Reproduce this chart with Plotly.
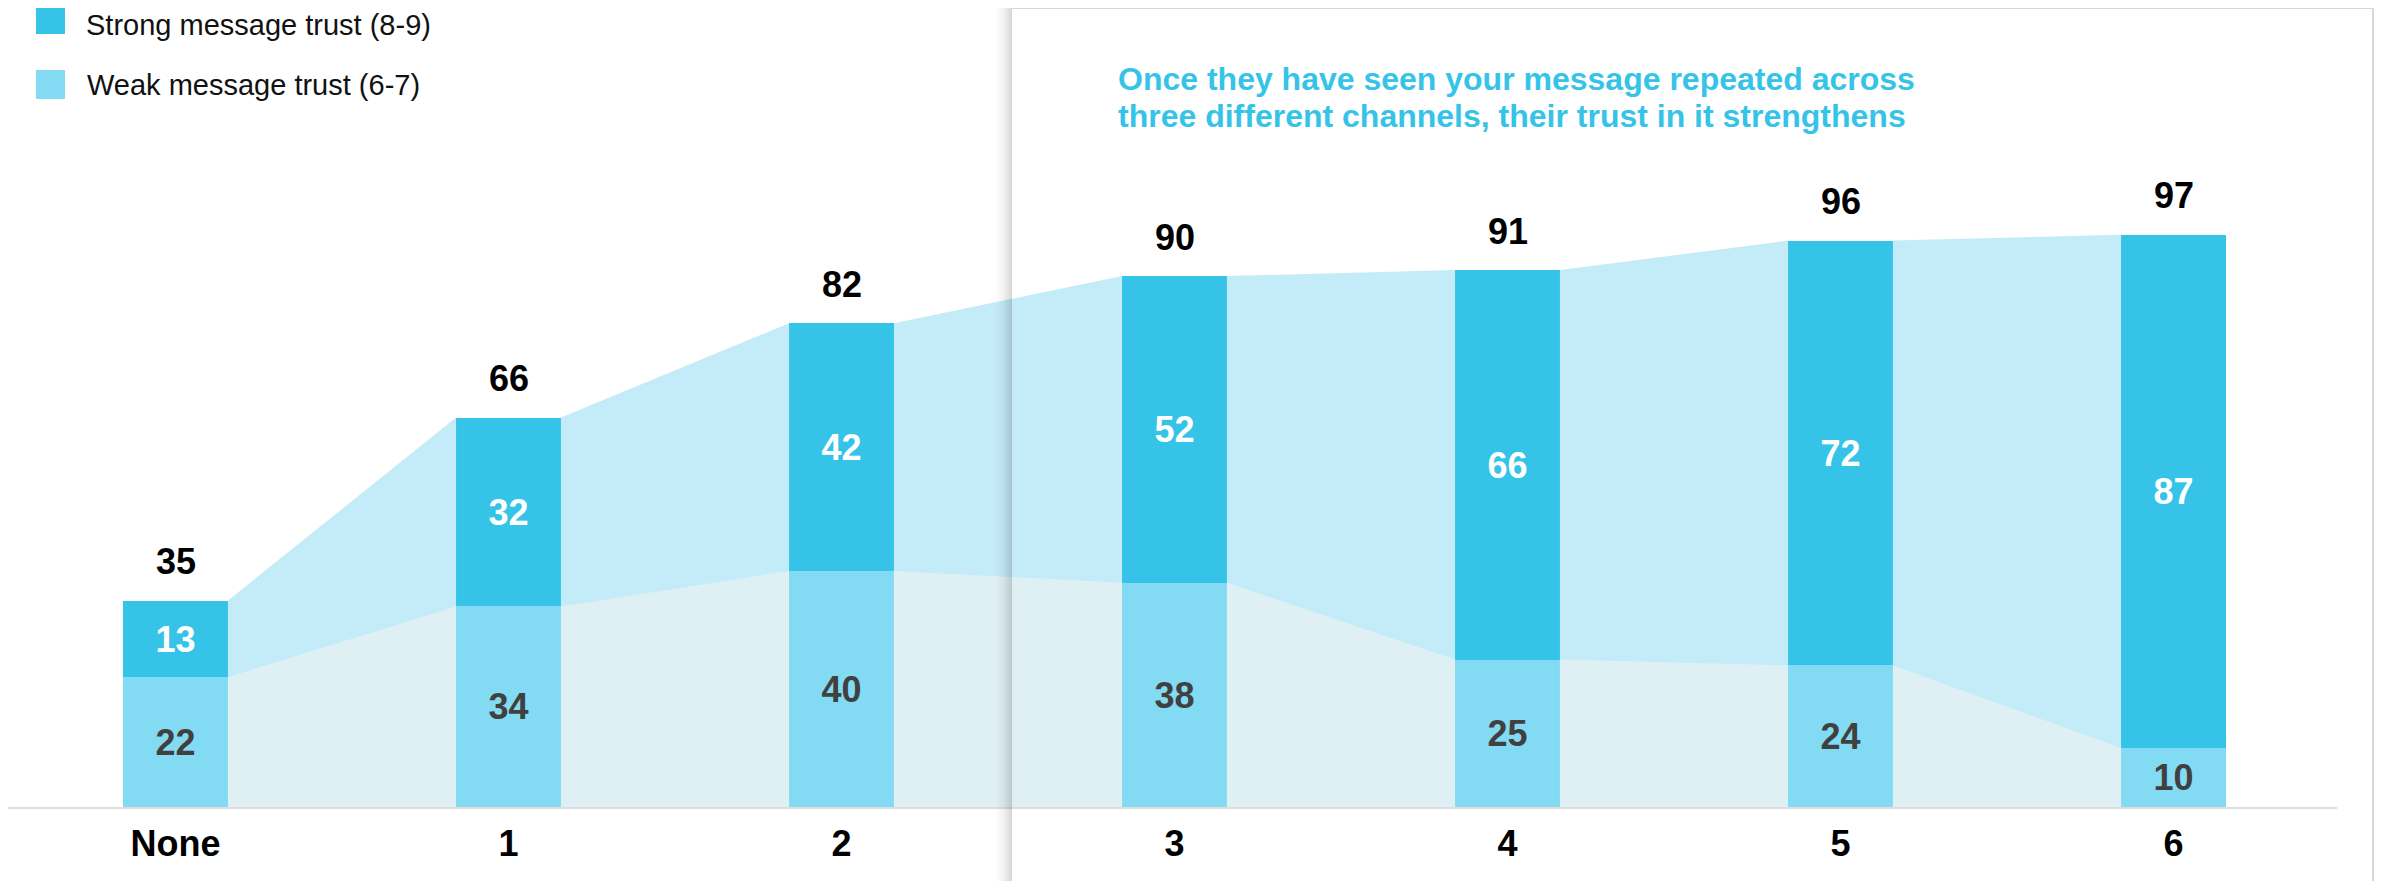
import plotly.graph_objects as go

categories = ["None", "1", "2", "3", "4", "5", "6"]
strong = [13, 32, 42, 52, 66, 72, 87]
weak = [22, 34, 40, 38, 25, 24, 10]
totals = [35, 66, 82, 90, 91, 96, 97]
legend_labels = ["Strong message trust (8-9)", "Weak message trust (6-7)"]
callout_lines = ["Once they have seen your message repeated across",
                 "three different channels, their trust in it strengthens"]

C_STRONG = "#35c4e8"
C_WEAK = "#82dbf2"
C_AREA_TOP = "#c4ecf8"
C_AREA_LOW = "#dff0f5"

OFF = 8  # page body margin
W, H = 2382 - OFF, 881 - OFF


def px(p):
    return (p - OFF) / W


def py(p):
    return 1 - (p - OFF) / H


BW = 0.315  # bar width in category units
xs = list(range(len(categories)))


def gap_polys(vals):
    gx, gy = [], []
    for i in range(len(vals) - 1):
        a = xs[i] + BW / 2
        b = xs[i + 1] - BW / 2
        gx += [a, a, b, b, a, None]
        gy += [0, vals[i], vals[i + 1], 0, 0, None]
    return gx, gy


fig = go.Figure()
tx, ty = gap_polys(totals)
fig.add_trace(go.Scatter(x=tx, y=ty, fill="toself", fillcolor=C_AREA_TOP, mode="lines",
                         line=dict(width=0), hoverinfo="skip", showlegend=False))
wx, wy = gap_polys(weak)
fig.add_trace(go.Scatter(x=wx, y=wy, fill="toself", fillcolor=C_AREA_LOW, mode="lines",
                         line=dict(width=0), hoverinfo="skip", showlegend=False))

fig.add_trace(go.Bar(x=xs, y=weak, width=BW, marker=dict(color=C_WEAK, line=dict(width=0)),
                     text=[str(v) for v in weak], textposition="inside", insidetextanchor="middle",
                     textangle=0, textfont=dict(family="Arial", size=36, color="#404040", weight="bold"),
                     name=legend_labels[1], showlegend=False))
fig.add_trace(go.Bar(x=xs, y=strong, width=BW, marker=dict(color=C_STRONG, line=dict(width=0)),
                     text=[str(v) for v in strong], textposition="inside", insidetextanchor="middle",
                     textangle=0, textfont=dict(family="Arial", size=36, color="white", weight="bold"),
                     name=legend_labels[0], showlegend=False))

for x, t in zip(xs, totals):
    fig.add_annotation(x=x, y=t, text=f"<b>{t}</b>", showarrow=False, yanchor="middle", yshift=39,
                       font=dict(family="Arial", size=36, color="black"))

# legend (manual)
leg_colors = [C_STRONG, C_WEAK]
leg_centers = [19.5, 84.5]
for i, (lab, col, cy) in enumerate(zip(legend_labels, leg_colors, leg_centers)):
    fig.add_shape(type="rect", xref="paper", yref="paper", x0=px(36), x1=px(65),
                  y0=py(cy + 14.5), y1=py(cy - 14.5), fillcolor=col, line=dict(width=0))
    if i == 0:
        fig.add_annotation(xref="paper", yref="paper", x=px(85), y=1, text=lab, showarrow=False,
                           xanchor="left", yanchor="top", borderpad=0,
                           font=dict(family="Arial", size=29, color="#111111"))
    else:
        fig.add_annotation(xref="paper", yref="paper", x=px(85), y=py(cy), text=lab, showarrow=False,
                           xanchor="left", yanchor="middle",
                           font=dict(family="Arial", size=29, color="#111111"))

# callout text
for line, cy in zip(callout_lines, [79, 116]):
    fig.add_annotation(xref="paper", yref="paper", x=px(1116), y=py(cy), text=f"<b>{line}</b>",
                       showarrow=False, xanchor="left", yanchor="middle", align="left",
                       font=dict(family="Arial", size=32, color=C_STRONG))

# card shadow
bx0, bx1, by0 = 1012, 2372, 9
N = 20
for d in range(1, N + 1):
    a = 0.17 * (1 - (d - 0.5) / N) ** 2
    fig.add_shape(type="rect", xref="paper", yref="paper", layer="above",
                  x0=px(bx0 - d + 0.5), x1=px(bx1 + d - 0.5),
                  y0=-0.1, y1=py(by0 - d + 0.5),
                  line=dict(color=f"rgba(0,0,0,{a:.4f})", width=1), fillcolor="rgba(0,0,0,0)")

x_left_px = 175.5 - OFF
step = 333.0
x_end_px = 2337 - OFF
xr0 = -x_left_px / step
xr1 = xr0 + x_end_px / step
base_px = 807 - OFF
unit_px = 5.9

fig.update_layout(
    width=W, height=H, margin=dict(l=0, r=0, t=0, b=0),
    paper_bgcolor="white", plot_bgcolor="rgba(0,0,0,0)",
    barmode="stack", bargap=0, showlegend=False,
    xaxis=dict(domain=[0, x_end_px / W], range=[xr0, xr1], tickvals=xs, ticktext=categories,
               showgrid=False, zeroline=False, showline=True, linecolor="#dddddd", linewidth=2,
               ticks="", ticklabelstandoff=4,
               tickfont=dict(family="Arial", size=36, color="black", weight="bold")),
    yaxis=dict(domain=[(H - base_px) / H, 1], range=[0, base_px / unit_px], showgrid=False,
               zeroline=False, showticklabels=False, showline=False),
    font=dict(family="Arial"),
)

fig.write_html("out.html")
